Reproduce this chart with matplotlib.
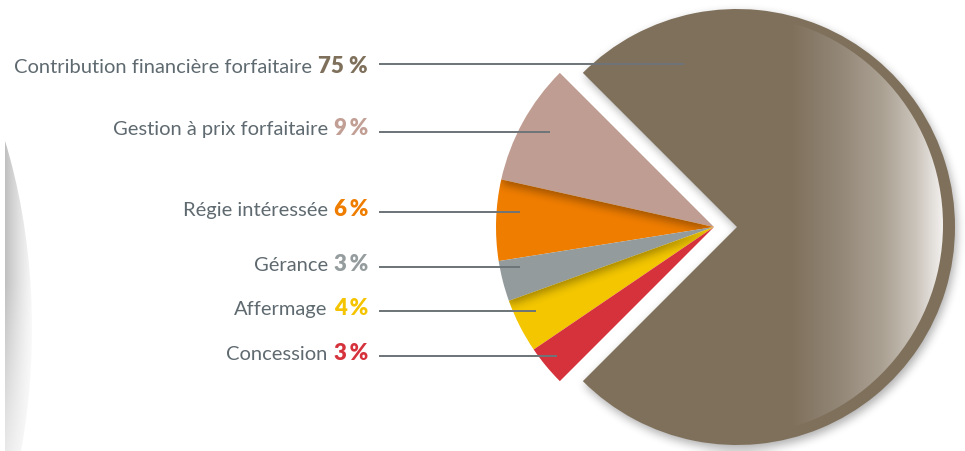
import numpy as np
import matplotlib
matplotlib.use('Agg')
import matplotlib.pyplot as plt
from matplotlib.colors import LinearSegmentedColormap
from matplotlib.patches import Circle, Ellipse

W, H = 965, 452

# repartition des modes de gestion
labels = ['Contribution financière forfaitaire', 'Gestion à prix forfaitaire',
          'Régie intéressée', 'Gérance', 'Affermage', 'Concession']
shares = [75, 9, 6, 3, 4, 3]
colors = ['#7f705b', '#bf9d92', '#ef7d00', '#949b9d', '#f3c600', '#d6323c']
pct_colors = ['#7f705b', '#c29f95', '#ef7d00', '#959c9e', '#f5c400', '#d6323c']

# layout, in pixels from the top-left corner
CX, CY, R = 714, H - 228, 218
EXPLODE = 23
line_y = [65, 133, 213, 268, 312, 357]
text_y = [73, 135, 216, 271, 315, 360]
line_end = [684, 550, 520, 520, 536, 557]
LINE_X0, TEXT_X1 = 379, 368
NAME_COLOR = '#5f6a70'
FONT = ['Lato', 'DejaVu Sans']


def smooth(a, r, passes=3):
    k = 2 * r + 1
    for _ in range(passes):
        for axis in (0, 1):
            pad = [(r, r) if i == axis else (0, 0) for i in range(2)]
            c = np.cumsum(np.pad(a, pad, mode='edge'), axis=axis)
            c = np.insert(c, 0, 0, axis=axis)
            n = c.shape[axis]
            a = (np.take(c, range(k, n), axis=axis) - np.take(c, range(0, n - k), axis=axis)) / k
    return a


def wedge_mask(cx, cy, r, a0, a1):
    xs = np.arange(W) + 0.5
    ys = np.arange(H) + 0.5
    X, Y = np.meshgrid(xs, ys)
    ang = np.degrees(np.arctan2(Y - cy, X - cx)) % 360
    lo, hi = a0 % 360, a1 % 360
    inside_ang = (ang >= lo) & (ang <= hi) if lo < hi else (ang >= lo) | (ang <= hi)
    return ((X - cx) ** 2 + (Y - cy) ** 2 <= r * r) & inside_ang


def shadow_image(alpha, rgb=(0, 0, 0)):
    img = np.zeros((H, W, 4))
    img[..., :3] = rgb
    img[..., 3] = alpha
    return img


fig = plt.figure(figsize=(W / 100, H / 100), dpi=100)
ax = fig.add_axes([0, 0, 1, 1])

wedges, _ = ax.pie(shares, colors=colors, startangle=225, counterclock=True,
                   radius=R, center=(CX, CY),
                   explode=[EXPLODE] + [0] * (len(shares) - 1),
                   wedgeprops=dict(linewidth=0), frame=False)
for w in wedges:
    w.set_zorder(2)

big = wedges[0]
bx, by = big.center
# soft drop shadow behind the big slice
m = wedge_mask(bx + 2, by - 4, R, big.theta1, big.theta2).astype(float)
ax.imshow(shadow_image(0.32 * smooth(m, 4)), extent=(0, W, 0, H),
          origin='lower', interpolation='bilinear', zorder=1)

# inner shading of the big slice, lighter towards the right rim
shade = LinearSegmentedColormap.from_list('shade', [
    (0.0, '#7f705b'), (0.3, '#918575'), (0.6, '#aba193'),
    (0.82, '#cbc4bb'), (1.0, '#f3f1ef')])
gx = np.linspace(0, 1, 300)
grad = shade(np.tile(gx, (10, 1)))
im = ax.imshow(grad, extent=(790, 944, CY - R, CY + R), aspect='auto',
               interpolation='bilinear', zorder=3)
im.set_clip_path(Circle((732, H - 226), 211, transform=ax.transData))

# shadows cast by the slice above onto the next one
for src, dst in [(1, 2), (3, 4)]:
    s = wedges[src]
    m = wedge_mask(s.center[0], s.center[1] - 4, R, s.theta1, s.theta2).astype(float)
    im = ax.imshow(shadow_image(0.35 * smooth(m, 4)), extent=(0, W, 0, H),
                   origin='lower', interpolation='bilinear', zorder=3)
    im.set_clip_path(wedges[dst])

# grey curved band at the left edge
band = np.zeros((200, 60, 4))
bxs = np.linspace(0, 1, 60)
bys = np.linspace(0, 1, 200)
band[..., :3] = 0.55
band[..., 3] = (0.55 * (1 - bxs[None, :]) ** 1.4) * np.clip(0.35 + bys[:, None] * 1.2, 0, 1)[::-1]
im = ax.imshow(band, extent=(5, 40, 0, H - 142), aspect='auto',
               interpolation='bilinear', zorder=1)
im.set_clip_path(Ellipse((-200, H - 330), 464, 804, transform=ax.transData))

ax.set_xlim(0, W)
ax.set_ylim(0, H)
ax.set_aspect('auto')
ax.axis('off')

fig.canvas.draw()
renderer = fig.canvas.get_renderer()
for i, (name, v) in enumerate(zip(labels, shares)):
    sep = ' ' if v >= 10 else '\u2009'
    yb = H - text_y[i]
    t = ax.text(TEXT_X1, yb, f'{v}{sep}%', ha='right', va='baseline',
                fontsize=16, fontweight='heavy', color=pct_colors[i],
                family=FONT, zorder=5)
    bb = t.get_window_extent(renderer)
    ax.text(bb.x0 - 6, yb, name, ha='right', va='baseline', fontsize=14.5,
            color=NAME_COLOR, family=FONT, zorder=5)
    ax.plot([LINE_X0, line_end[i]], [H - line_y[i]] * 2, color='#6d7478',
            lw=1.4, solid_capstyle='butt', zorder=6)

fig.savefig('out.png', dpi=100)
